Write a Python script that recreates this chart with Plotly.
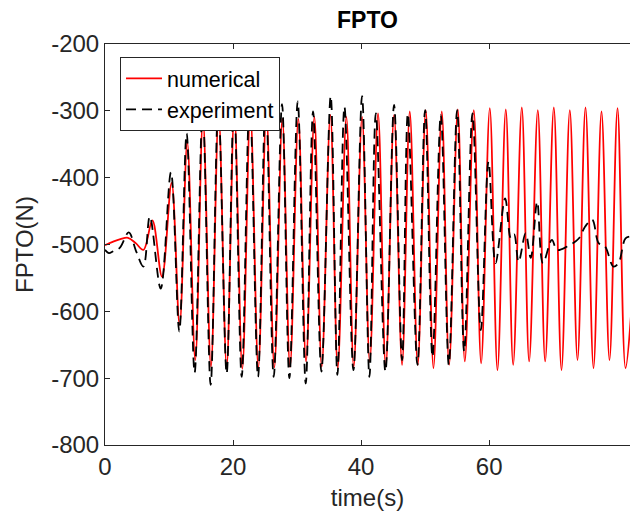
import plotly.graph_objects as go

# ---- data ----
num_t = [0, 1.2, 2.4, 3.6, 4.8, 6.0, 7.4, 8.9,
         10.4, 11.65, 12.85, 14.1, 15.3, 16.55, 17.75, 19.0, 20.2, 21.45,
         22.7, 23.95, 25.2, 26.45, 27.7, 28.9, 30.2, 31.4, 32.7, 33.85,
         35.2, 36.35, 37.7, 38.85, 40.15, 41.35, 42.65, 43.85, 45.15, 46.4,
         47.6, 48.85, 50.1, 51.3, 52.6, 53.75, 55.1, 56.2, 57.6, 58.75,
         60.1, 61.3, 62.6, 63.75, 65.1, 66.25, 67.6, 68.75, 70.1, 71.3,
         72.6, 73.8, 75.05, 76.3, 77.55, 78.8, 80.05, 81.3, 82.2]
num_v = [-501, -496, -492, -490, -498, -508, -464, -548,
         -408, -620, -347, -673, -312, -683, -305, -683, -303, -686,
         -302, -684, -302, -684, -312, -683, -312, -675, -309, -683,
         -306, -685, -309, -683, -309, -675, -304, -683, -306, -680,
         -301, -680, -299, -685, -301, -680, -298, -675, -299, -678,
         -296, -688, -298, -680, -295, -675, -299, -675, -295, -688,
         -299, -673, -295, -685, -301, -673, -296, -685, -600]

exp_t = [0, 0.6, 1.3, 2.3, 3.7, 4.9, 6.0, 7.0, 8.7,
         10.3, 11.6, 12.75, 14.0, 15.25, 16.5, 17.7, 19.0, 20.15, 21.35,
         22.6, 23.9, 25.1, 26.35, 27.65, 28.8, 30.1, 31.35, 32.5, 33.8,
         35.25, 36.3, 37.4, 38.8, 40.15, 41.3, 42.3, 43.8, 45.15, 46.4,
         47.3, 48.8, 50.0, 51.15, 52.45, 53.7, 55.0, 56.1, 57.4, 58.7,
         59.9, 61.0, 62.5, 63.4, 63.9, 64.6, 65.7, 66.5, 67.5, 68.4,
         69.8, 70.6, 72.2, 74.0, 75.0, 76.1, 77.1, 78.1, 79.4, 80.2, 81.3, 82.2]
exp_v = [-508, -513, -510, -505, -482, -511, -533, -458, -566,
         -392, -630, -334, -692, -300, -710, -290, -693, -285, -698,
         -282, -698, -278, -698, -290, -700, -286, -708, -301, -690,
         -278, -695, -294, -688, -278, -698, -304, -690, -291, -673,
         -304, -680, -299, -668, -306, -680, -299, -660, -304, -628,
         -376, -528, -431, -491, -485, -526, -483, -520, -436, -528,
         -493, -508, -503, -491, -473, -463, -498, -503, -533, -528, -491, -488]

x_ticks = [0, 20, 40, 60]
y_ticks = [-800, -700, -600, -500, -400, -300, -200]

FONT = "Liberation Sans, Arial, Helvetica, sans-serif"
AX = "#262626"

fig = go.Figure()
fig.add_trace(go.Scatter(x=num_t, y=num_v, mode="lines", name="numerical",
                         line=dict(color="#ff0000", width=1.8, shape="spline")))
fig.add_trace(go.Scatter(x=exp_t, y=exp_v, mode="lines", name="experiment",
                         line=dict(color="#000000", width=1.8, dash="10px,6px",
                                   shape="spline")))

fig.update_layout(
    width=630, height=522, autosize=False,
    margin=dict(l=105, r=0, t=44, b=77),
    paper_bgcolor="white", plot_bgcolor="white",
    font=dict(family=FONT, color=AX, size=24),
    title=dict(text="<b>FPTO</b>", x=0.5833, xanchor="center",
               y=1 - 20 / 522, yanchor="middle",
               font=dict(family=FONT, size=23, color="#000000")),
    showlegend=True,
    legend=dict(x=0.0286, y=0.9676, xanchor="left", yanchor="top",
                bgcolor="white", bordercolor=AX, borderwidth=1,
                font=dict(family=FONT, size=21.5, color="#000000"),
                itemwidth=36, tracegroupgap=0),
    xaxis=dict(range=[0, 82], tickvals=x_ticks, ticktext=[str(v) for v in x_ticks],
               showgrid=False, zeroline=False, showline=True, linecolor=AX,
               linewidth=1, mirror="ticks", ticks="inside", ticklen=5,
               tickcolor=AX, tickfont=dict(size=24, color=AX),
               title=dict(text="time(s)", font=dict(size=24, color=AX), standoff=10)),
    yaxis=dict(range=[-800, -200], tickvals=y_ticks, ticktext=[str(v) for v in y_ticks],
               showgrid=False, zeroline=False, showline=True, linecolor=AX,
               linewidth=1, mirror=False, ticks="inside", ticklen=5,
               tickcolor=AX, tickfont=dict(size=24, color=AX),
               title=dict(text="FPTO(N)", font=dict(size=24, color=AX), standoff=10)),
)

fig.write_html("out.html")
